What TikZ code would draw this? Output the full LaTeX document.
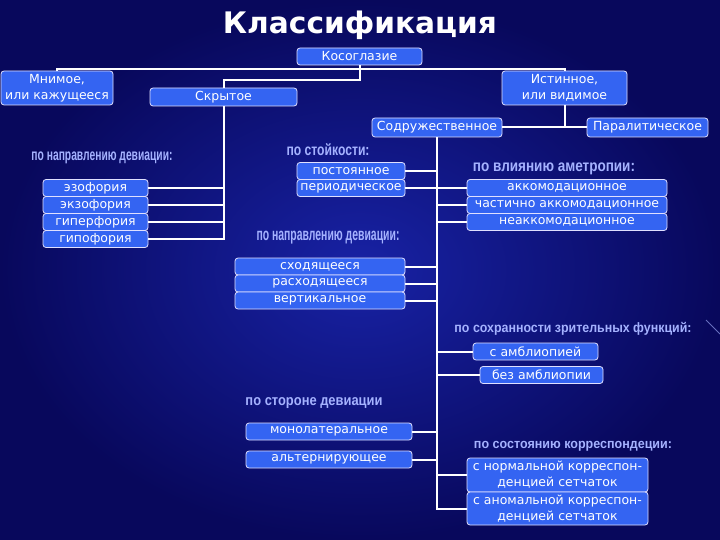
\documentclass[tikz,border=0pt]{standalone}
\usepackage{graphicx}
\usepackage{fontspec}
\setmainfont{DejaVu Sans}
\newfontfamily\headfont{Liberation Sans}
\definecolor{bgin}{RGB}{24,34,165}
\definecolor{bgout}{RGB}{8,8,92}
\definecolor{boxblue}{RGB}{52,100,242}
\definecolor{headcol}{RGB}{165,178,255}
\newcommand{\myhead}[3]{\resizebox*{#1pt}{#2pt}{\headfont\bfseries #3}}
\tikzset{
  cls/.style={draw=white!88!blue, line width=0.8pt, fill=boxblue, rounded corners=3pt,
    text=white, font=\fontsize{12.5}{16}\selectfont, inner sep=0pt, align=center},
  conn/.style={white, line width=2pt},
  hd/.style={text=headcol, inner sep=0pt},
}
\begin{document}
\begin{tikzpicture}[x=1pt, y=-1pt]
\useasboundingbox (0,0) rectangle (720,540);
\shade[inner color=bgin, outer color=bgout] (0,0) rectangle (720,540);
\draw[headcol, opacity=0.6, line width=0.8pt] (706,320) -- (720,334);

% title
\node[text=white, inner sep=0pt] (title) at (360,25) {\resizebox{274pt}{!}{\bfseries Классификация}};

% boxes
\node[cls, minimum width=125pt, minimum height=17pt] (kos) at (359.5,56.5) {Косоглазие};
\node[cls, minimum width=112pt, minimum height=34pt] (mnim) at (57,88) {Мнимое,\\или кажущееся};
\node[cls, minimum width=147pt, minimum height=18pt] (skr) at (223.5,97) {Скрытое};
\node[cls, minimum width=125pt, minimum height=34pt] (ist) at (564.5,88) {Истинное,\\или видимое};
\node[cls, minimum width=130pt, minimum height=19pt] (sodr) at (437,127.5) {Содружественное};
\node[cls, minimum width=121pt, minimum height=19pt] (paral) at (647.5,127.5) {Паралитическое};

\node[cls, minimum width=105pt, minimum height=17pt] (ezo) at (95.5,188) {эзофория};
\node[cls, minimum width=105pt, minimum height=17pt] (exo) at (95.5,205) {экзофория};
\node[cls, minimum width=105pt, minimum height=17pt] (hyper) at (95.5,222) {гиперфория};
\node[cls, minimum width=105pt, minimum height=17pt] (hypo) at (95.5,239) {гипофория};

\node[cls, minimum width=108pt, minimum height=17pt] (post) at (351,171) {постоянное};
\node[cls, minimum width=108pt, minimum height=17pt] (period) at (351,188) {периодическое};

\node[cls, minimum width=200pt, minimum height=17pt] (akk) at (567,188) {аккомодационное};
\node[cls, minimum width=200pt, minimum height=17pt] (chakk) at (567,205) {частично аккомодационное};
\node[cls, minimum width=200pt, minimum height=17pt] (neakk) at (567,222) {неаккомодационное};

\node[cls, minimum width=170pt, minimum height=17pt] (shod) at (320,266.5) {сходящееся};
\node[cls, minimum width=170pt, minimum height=17pt] (rash) at (320,283.5) {расходящееся};
\node[cls, minimum width=170pt, minimum height=17pt] (vert) at (320,300.5) {вертикальное};

\node[cls, minimum width=125pt, minimum height=17pt] (samb) at (535.5,351.5) {с амблиопией};
\node[cls, minimum width=123pt, minimum height=17pt] (bamb) at (541.5,375) {без амблиопии};

\node[cls, minimum width=166pt, minimum height=17pt] (mono) at (329,431.5) {монолатеральное};
\node[cls, minimum width=166pt, minimum height=17pt] (alt) at (329,459.5) {альтернирующее};

\node[cls, minimum width=181pt, minimum height=34pt] (norm) at (557.5,475) {с нормальной корреспон-\\денцией сетчаток};
\node[cls, minimum width=181pt, minimum height=33pt] (anom) at (557.5,508.5) {с аномальной корреспон-\\денцией сетчаток};

% headings
\node[hd] (h1) at (102,158) {\myhead{141}{12}{по направлению девиации:}};
\node[hd] (h2) at (328,150) {\myhead{83}{12}{по стойкости:}};
\node[hd] (h3) at (328,238) {\myhead{143}{13}{по направлению девиации:}};
\node[hd] (h4) at (554,169) {\myhead{162}{12}{по влиянию аметропии:}};
\node[hd] (h5) at (573,329) {\myhead{237}{13}{по сохранности зрительных функций:}};
\node[hd] (h6) at (314,403) {\myhead{137}{11}{по стороне девиации}};
\node[hd] (h7) at (573,446) {\myhead{198}{10}{по состоянию корреспондеции:}};

% connectors
\coordinate (j1) at (360,69);
\coordinate (j2) at (360,80);
\draw[conn] (mnim.north) -- (mnim.north |- j1) -- (ist.north |- j1) -- (ist.north);
\draw[conn] (kos.south) -- (kos.south |- j2) -- (skr.north |- j2) -- (skr.north);

\draw[conn] (skr.south) -- (skr.south |- hypo.east) -- (hypo.east);
\draw[conn] (ezo.east) -- (ezo.east -| skr.south);
\draw[conn] (exo.east) -- (exo.east -| skr.south);
\draw[conn] (hyper.east) -- (hyper.east -| skr.south);

\draw[conn] (ist.south) -- (ist.south |- sodr.east);
\draw[conn] (sodr.east) -- (paral.west);

\draw[conn] (sodr.south) -- (sodr.south |- anom.west) -- (anom.west);
\foreach \b in {post,period,shod,rash,vert,mono,alt}
  \draw[conn] (\b.east) -- (\b.east -| sodr.south);
\foreach \b in {akk,chakk,neakk,samb,bamb,norm}
  \draw[conn] (\b.west) -- (\b.west -| sodr.south);
\end{tikzpicture}
\end{document}
